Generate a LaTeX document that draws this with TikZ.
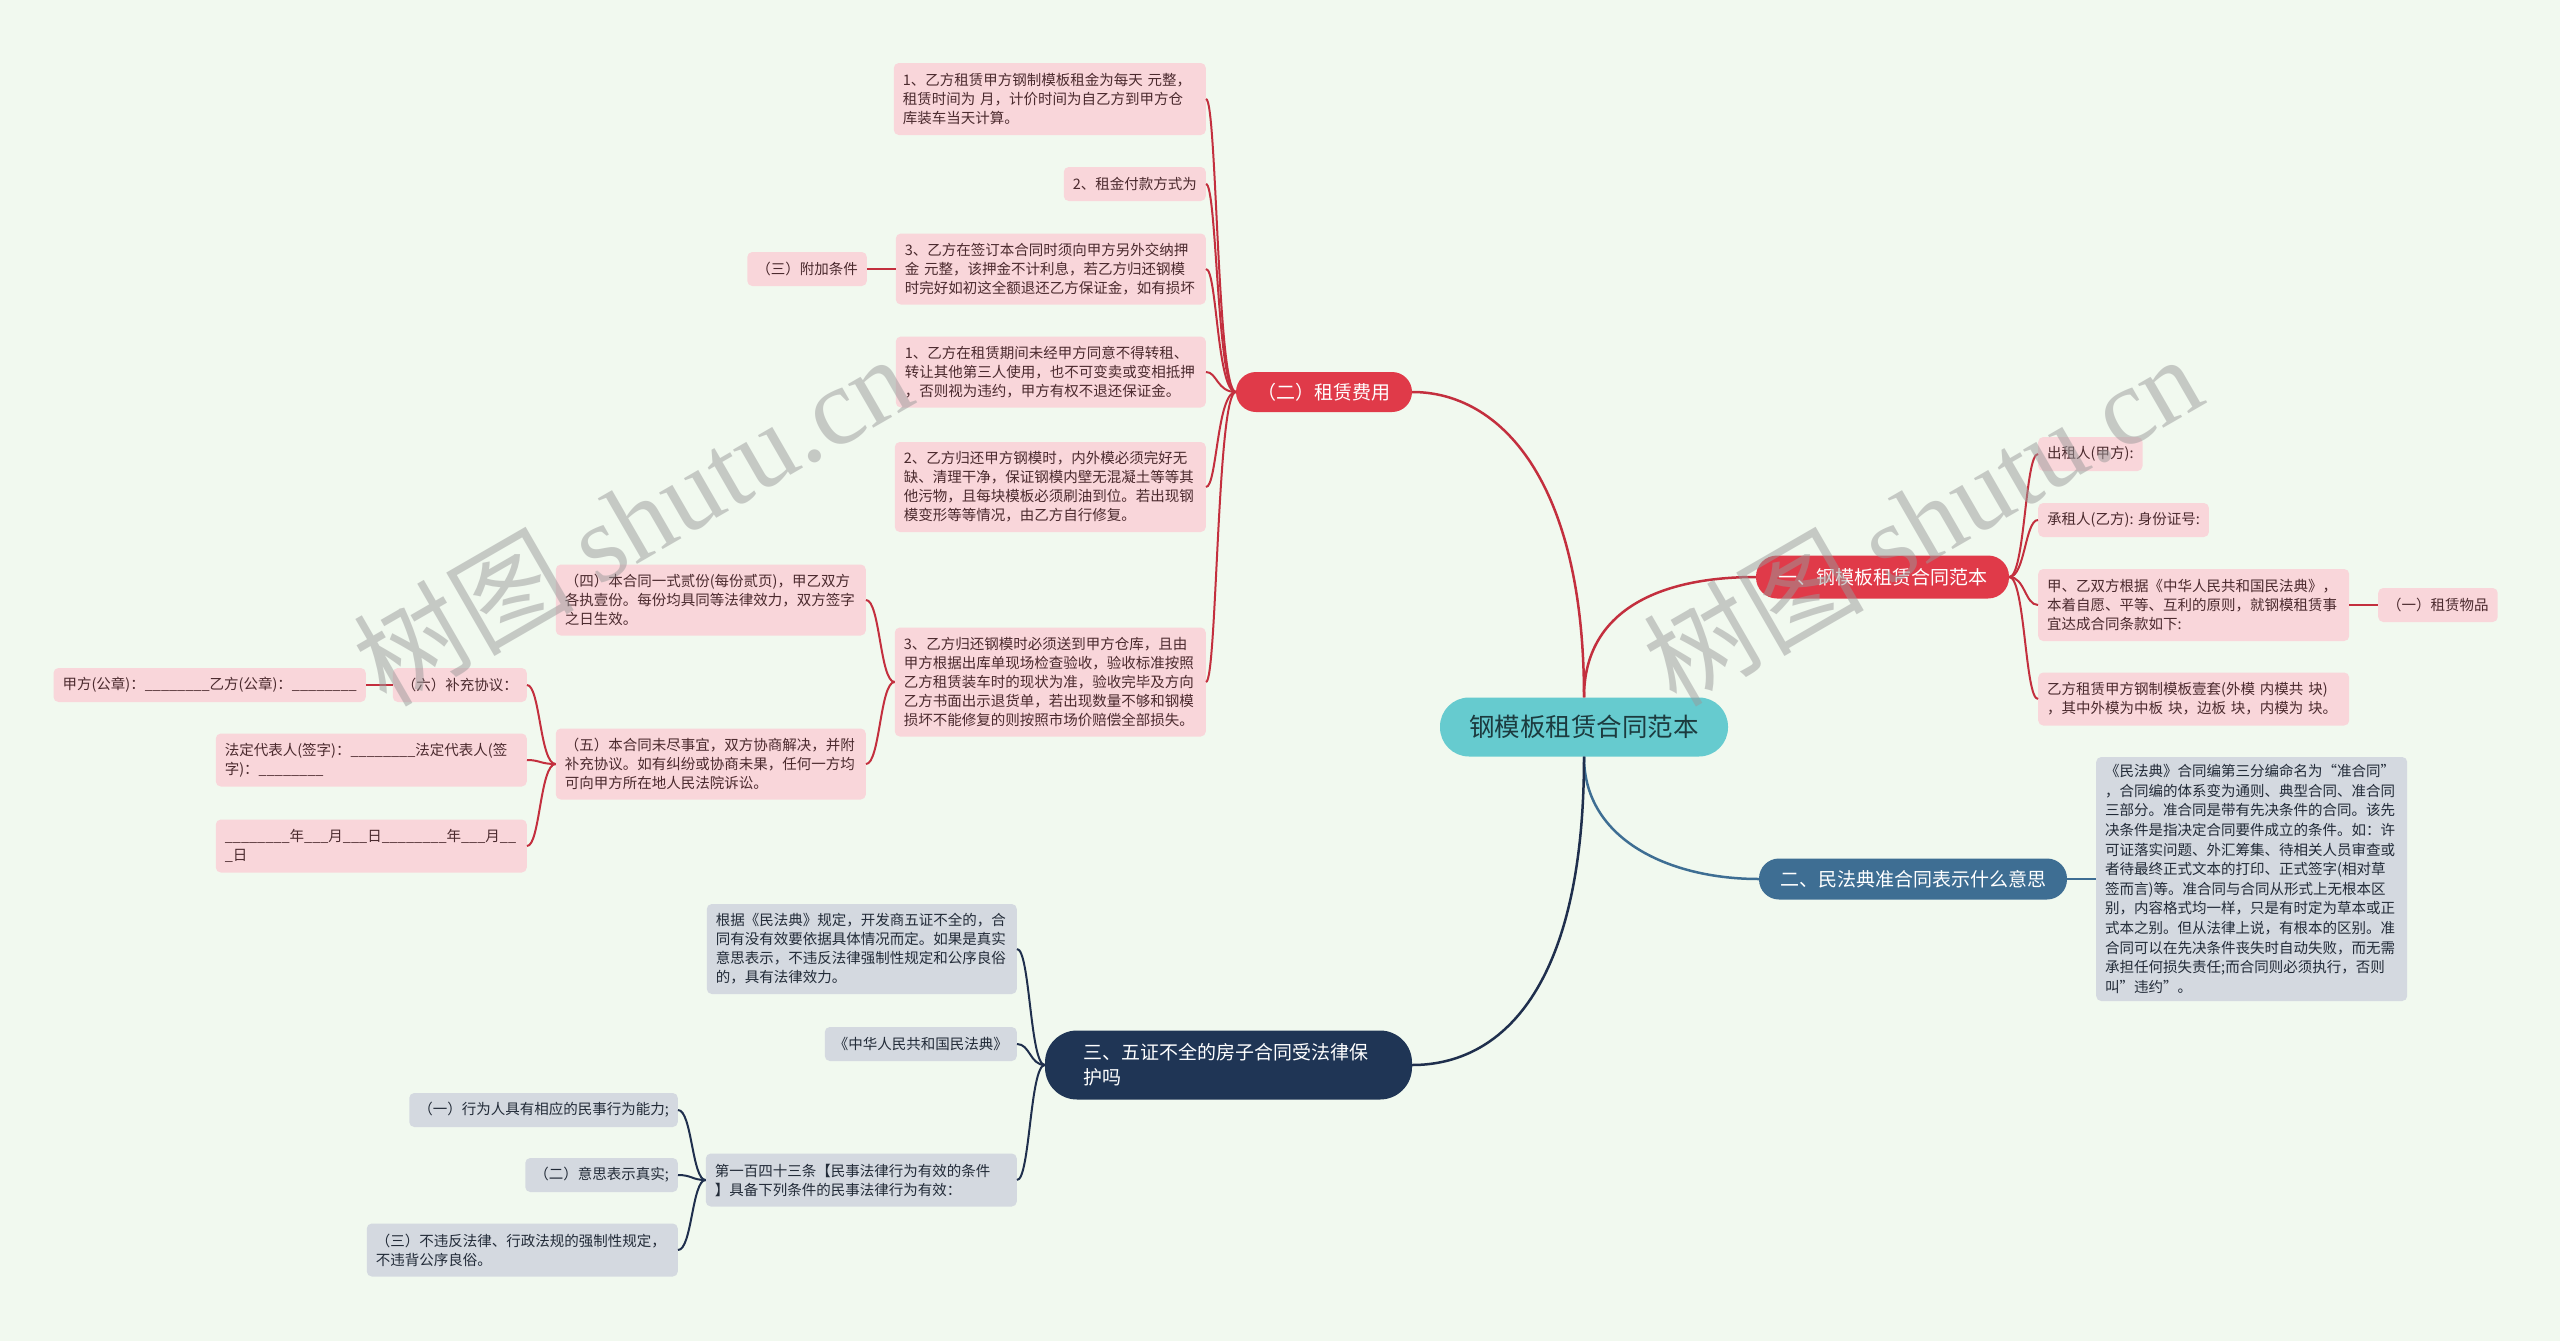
\documentclass[tikz,border=0pt]{standalone}
\usepackage{fontspec}
\setmainfont{Noto Sans CJK SC}
\newfontfamily\wmlatin{Liberation Serif}
\usetikzlibrary{calc}
\definecolor{bgc}{HTML}{F1F9EF}
\definecolor{pkfill}{HTML}{F9D6DA}
\definecolor{pktext}{HTML}{4B2A2E}
\definecolor{redf}{HTML}{E03A49}
\definecolor{redline}{HTML}{C32F3E}
\definecolor{tealf}{HTML}{66CBCF}
\definecolor{ctext}{HTML}{1C3B3F}
\definecolor{navyf}{HTML}{1F3555}
\definecolor{navyline}{HTML}{1F2F4D}
\definecolor{steelf}{HTML}{3E6E93}
\definecolor{gyfill}{HTML}{D4D9E0}
\definecolor{gytext}{HTML}{222B38}
\definecolor{wmgray}{HTML}{9A9A9A}
\newcommand\conn[4][]{\draw[#1] (#2) .. controls (#4 |- #2) and (#4 |- #3) .. (#3);}
\begin{document}
\begin{tikzpicture}[x=1pt,y=-1pt,
  pk/.style={fill=pkfill,text=pktext,rounded corners=5pt,inner xsep=9pt,inner ysep=0pt,
    minimum height=34pt,font=\fontsize{14.5pt}{19pt}\selectfont,align=left},
  gy/.style={fill=gyfill,text=gytext,rounded corners=5pt,inner xsep=9pt,inner ysep=0pt,
    minimum height=34pt,font=\fontsize{14.5pt}{19pt}\selectfont,align=left},
  pill/.style={inner sep=0pt,font=\fontsize{19pt}{25pt}\selectfont,text=white},
  redl/.style={draw=redline,line width=2pt},
  navyl/.style={draw=navyline,line width=2pt},
  bluel/.style={draw=steelf,line width=2pt},
  wm/.style={rotate=30,text=wmgray,opacity=0.5,font=\fontsize{110pt}{110pt}\selectfont}]
\fill[bgc] (0,0) rectangle (2560,1341);
\useasboundingbox (0,0) rectangle (2560,1341);

% spine coordinates
\coordinate (s1) at (2025,0);
\coordinate (s2) at (1217,0);
\coordinate (s6) at (880,0);
\coordinate (s5) at (540,0);
\coordinate (s3) at (1030,0);
\coordinate (sg) at (692,0);

% main nodes
\node[fill=tealf,text=ctext,rounded corners=29pt,minimum width=288pt,minimum height=59pt,
  inner sep=0pt,font=\fontsize{25.5pt}{30pt}\selectfont] (c) at (1584,727) {钢模板租赁合同范本};
\node[pill,fill=redf,rounded corners=21pt,minimum width=253pt,minimum height=43pt] (b1) at (1882.5,577) {一、钢模板租赁合同范本};
\node[pill,fill=redf,rounded corners=20pt,minimum width=176pt,minimum height=40pt] (b2) at (1324,392) {（二）租赁费用};
\node[pill,fill=steelf,rounded corners=20pt,minimum width=308pt,minimum height=41pt] (b3) at (1913,879) {二、民法典准合同表示什么意思};
\node[pill,fill=navyf,rounded corners=32pt,text width=290pt,inner xsep=38.5pt,minimum height=69pt,align=left] (b4) at (1228.5,1065) {三、五证不全的房子合同受法律保\\护吗};

% branch 1 children
\node[pk,anchor=west] (r1) at (2038,454) {出租人(甲方):};
\node[pk,anchor=west] (r2) at (2038,520) {承租人(乙方): 身份证号:};
\node[pk,anchor=west,text width=293pt,minimum height=72pt] (r3) at (2038,605) {甲、乙双方根据《中华人民共和国民法典》，\\本着自愿、平等、互利的原则，就钢模租赁事\\宜达成合同条款如下:};
\node[pk,anchor=west,text width=293pt,minimum height=53pt] (r4) at (2038,699) {乙方租赁甲方钢制模板壹套(外模 内模共 块)\\，其中外模为中板 块，边板 块，内模为 块。};
\node[pk,anchor=west] (r5) at (2378,605) {（一）租赁物品};

% branch (二) children
\node[pk,anchor=east,text width=294pt,minimum height=72pt] (a1) at (1206,99) {1、乙方租赁甲方钢制模板租金为每天 元整，\\租赁时间为 月，计价时间为自乙方到甲方仓\\库装车当天计算。};
\node[pk,anchor=east] (a2) at (1206,184) {2、租金付款方式为};
\node[pk,anchor=east,text width=292pt,minimum height=71pt] (a3) at (1206,269) {3、乙方在签订本合同时须向甲方另外交纳押\\金 元整，该押金不计利息，若乙方归还钢模\\时完好如初这全额退还乙方保证金，如有损坏};
\node[pk,anchor=east] (a3c) at (867,269) {（三）附加条件};
\node[pk,anchor=east,text width=292pt,minimum height=71pt] (a4) at (1206,372) {1、乙方在租赁期间未经甲方同意不得转租、\\转让其他第三人使用，也不可变卖或变相抵押\\，否则视为违约，甲方有权不退还保证金。};
\node[pk,anchor=east,text width=293pt,minimum height=90pt] (a5) at (1206,487) {2、乙方归还甲方钢模时，内外模必须完好无\\缺、清理干净，保证钢模内壁无混凝土等等其\\他污物，且每块模板必须刷油到位。若出现钢\\模变形等等情况，由乙方自行修复。};
\node[pk,anchor=east,text width=293pt,minimum height=109pt] (a6) at (1206,682) {3、乙方归还钢模时必须送到甲方仓库，且由\\甲方根据出库单现场检查验收，验收标准按照\\乙方租赁装车时的现状为准，验收完毕及方向\\乙方书面出示退货单，若出现数量不够和钢模\\损坏不能修复的则按照市场价赔偿全部损失。};
\node[pk,anchor=east,text width=292pt,minimum height=71pt] (a7) at (866,600) {（四）本合同一式贰份(每份贰页)，甲乙双方\\各执壹份。每份均具同等法律效力，双方签字\\之日生效。};
\node[pk,anchor=east,text width=292pt,minimum height=71pt] (a8) at (866,764) {（五）本合同未尽事宜，双方协商解决，并附\\补充协议。如有纠纷或协商未果，任何一方均\\可向甲方所在地人民法院诉讼。};
\node[pk,anchor=east] (a9) at (527,685) {（六）补充协议：};
\node[pk,anchor=east] (a10) at (366,685) {甲方(公章)：\_\_\_\_\_\_\_\_乙方(公章)：\_\_\_\_\_\_\_\_};
\node[pk,anchor=east,text width=293pt,minimum height=53pt] (a11) at (527,760) {法定代表人(签字)：\_\_\_\_\_\_\_\_法定代表人(签\\字)：\_\_\_\_\_\_\_\_};
\node[pk,anchor=east,text width=293pt,minimum height=53pt] (a12) at (527,846) {\_\_\_\_\_\_\_\_年\_\_\_月\_\_\_日\_\_\_\_\_\_\_\_年\_\_\_月\_\_\\\_日};

% branch 二 child
\node[gy,anchor=west,text width=293pt,minimum height=244pt,font=\fontsize{14.5pt}{19.6pt}\selectfont] (m1) at (2096,879) {《民法典》合同编第三分编命名为“准合同”\\，合同编的体系变为通则、典型合同、准合同\\三部分。准合同是带有先决条件的合同。该先\\决条件是指决定合同要件成立的条件。如：许\\可证落实问题、外汇筹集、待相关人员审查或\\者待最终正式文本的打印、正式签字(相对草\\签而言)等。准合同与合同从形式上无根本区\\别，内容格式均一样，只是有时定为草本或正\\式本之别。但从法律上说，有根本的区别。准\\合同可以在先决条件丧失时自动失败，而无需\\承担任何损失责任;而合同则必须执行，否则\\叫"违约"。};

% branch 三 children
\node[gy,anchor=east,text width=292pt,minimum height=90pt] (g1) at (1017,949) {根据《民法典》规定，开发商五证不全的，合\\同有没有效要依据具体情况而定。如果是真实\\意思表示，不违反法律强制性规定和公序良俗\\的，具有法律效力。};
\node[gy,anchor=east] (g2) at (1017,1044) {《中华人民共和国民法典》};
\node[gy,anchor=east,text width=293pt,minimum height=53pt] (g3) at (1017,1180) {第一百四十三条【民事法律行为有效的条件\\】具备下列条件的民事法律行为有效：};
\node[gy,anchor=east] (g4) at (678,1110) {（一）行为人具有相应的民事行为能力;};
\node[gy,anchor=east] (g5) at (678,1175) {（二）意思表示真实;};
\node[gy,anchor=east,text width=293pt,minimum height=53pt] (g6) at (678,1250) {（三）不违反法律、行政法规的强制性规定，\\不违背公序良俗。};

% main connectors
\draw[redl,line width=2.5pt] (c.north) .. controls (1584,610) and (1660,577) .. (b1.west);
\draw[redl,line width=2.5pt] (c.north) .. controls (1584,480) and (1500,392) .. (b2.east);
\draw[bluel,line width=2.5pt] (c.south) .. controls (1584,840) and (1670,879) .. (b3.west);
\draw[navyl,line width=2.5pt] (c.south) .. controls (1584,990) and (1500,1065) .. (b4.east);

% branch 1
\conn[redl]{b1.east}{r1.west}{s1}
\conn[redl]{b1.east}{r2.west}{s1}
\conn[redl]{b1.east}{r3.west}{s1}
\conn[redl]{b1.east}{r4.west}{s1}
\draw[redl] (r3.east) -- (r5.west);

% branch (二)
\conn[redl]{b2.west}{a1.east}{s2}
\conn[redl]{b2.west}{a2.east}{s2}
\conn[redl]{b2.west}{a3.east}{s2}
\conn[redl]{b2.west}{a4.east}{s2}
\conn[redl]{b2.west}{a5.east}{s2}
\conn[redl]{b2.west}{a6.east}{s2}
\draw[redl] (a3.west) -- (a3c.east);
\conn[redl]{a6.west}{a7.east}{s6}
\conn[redl]{a6.west}{a8.east}{s6}
\conn[redl]{a8.west}{a9.east}{s5}
\conn[redl]{a8.west}{a11.east}{s5}
\conn[redl]{a8.west}{a12.east}{s5}
\draw[redl] (a9.west) -- (a10.east);

% branch 二
\draw[bluel] (b3.east) -- (m1.west);

% branch 三
\conn[navyl]{b4.west}{g1.east}{s3}
\conn[navyl]{b4.west}{g2.east}{s3}
\conn[navyl]{b4.west}{g3.east}{s3}
\conn[navyl]{g3.west}{g4.east}{sg}
\conn[navyl]{g3.west}{g5.east}{sg}
\conn[navyl]{g3.west}{g6.east}{sg}

% watermarks
\node[wm] (w1) at (632,519) {树图 {\wmlatin shutu.cn}};
\node[wm] (w2) at (1922,519) {树图 {\wmlatin shutu.cn}};
\end{tikzpicture}
\end{document}
